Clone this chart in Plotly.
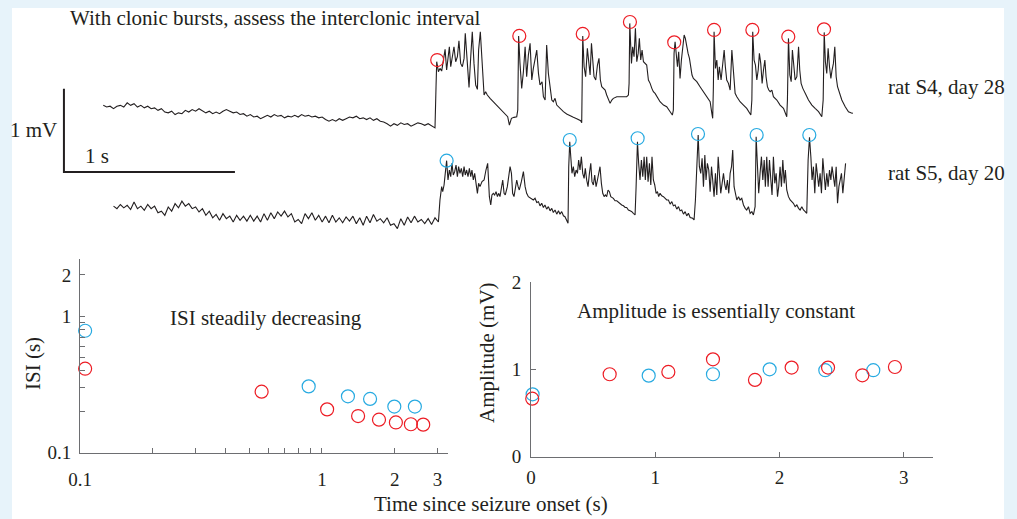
import plotly.graph_objects as go

# ------------------------------------------------------------------
# DATA
# ------------------------------------------------------------------
# Top traces: time (s, relative to seizure onset) and voltage (mV)
S4_BASE_T = [-1.94, -1.92, -1.90, -1.88, -1.86, -1.84, -1.82, -1.80, -1.78, -1.76,
             -1.74, -1.72, -1.70, -1.68, -1.66, -1.64, -1.62, -1.60, -1.58, -1.56,
             -1.54, -1.52, -1.50, -1.48, -1.46, -1.44, -1.42, -1.40, -1.38, -1.36,
             -1.34, -1.32, -1.30, -1.28, -1.26, -1.24, -1.22, -1.20, -1.18, -1.16,
             -1.14, -1.12, -1.10, -1.08, -1.06, -1.04, -1.02, -1.00, -0.98, -0.96,
             -0.94, -0.92, -0.90, -0.88, -0.86, -0.84, -0.82, -0.80, -0.78, -0.76,
             -0.74, -0.72, -0.70, -0.68, -0.66, -0.64, -0.62, -0.60, -0.58, -0.56,
             -0.54, -0.52, -0.50, -0.48, -0.46, -0.44, -0.42, -0.40, -0.38, -0.36,
             -0.34, -0.32, -0.30, -0.28, -0.26, -0.24, -0.22, -0.20, -0.18, -0.16,
             -0.14, -0.12, -0.10, -0.08, -0.06, -0.04, -0.02, 0.00]
S4_BASE_V = [0.80, 0.78, 0.79, 0.76, 0.79, 0.80, 0.78, 0.83, 0.80, 0.82,
             0.78, 0.80, 0.77, 0.79, 0.76, 0.77, 0.74, 0.76, 0.72, 0.71,
             0.73, 0.69, 0.71, 0.70, 0.74, 0.72, 0.75, 0.73, 0.76, 0.74,
             0.71, 0.73, 0.70, 0.72, 0.70, 0.73, 0.75, 0.73, 0.71, 0.72,
             0.69, 0.70, 0.67, 0.69, 0.66, 0.67, 0.64, 0.66, 0.68, 0.66,
             0.69, 0.67, 0.68, 0.65, 0.67, 0.66, 0.68, 0.66, 0.69, 0.67,
             0.68, 0.66, 0.67, 0.65, 0.66, 0.63, 0.61, 0.63, 0.61, 0.64,
             0.62, 0.64, 0.66, 0.65, 0.67, 0.64, 0.65, 0.63, 0.65, 0.62,
             0.64, 0.61, 0.60, 0.58, 0.55, 0.58, 0.56, 0.59, 0.57, 0.58,
             0.55, 0.57, 0.59, 0.58, 0.56, 0.58, 0.55, 0.53]

S4_BURST = [
    (0.006, 1.024), (0.010, 1.324), (0.020, 1.204), (0.029, 1.244), (0.039, 1.212),
    (0.049, 1.364), (0.059, 1.472), (0.068, 1.224), (0.078, 1.384), (0.084, 1.504),
    (0.092, 1.264), (0.101, 1.404), (0.111, 1.504), (0.121, 1.324), (0.131, 1.384),
    (0.140, 1.576), (0.150, 1.304), (0.160, 1.264), (0.170, 1.364), (0.177, 1.664),
    (0.189, 1.264), (0.199, 1.016), (0.209, 1.384), (0.218, 1.684), (0.228, 1.304),
    (0.238, 1.044), (0.248, 0.992), (0.255, 1.464), (0.265, 1.684), (0.275, 1.264),
    (0.287, 0.924), (0.296, 0.964), (0.306, 0.924), (0.322, 0.884), (0.341, 0.844),
    (0.361, 0.804), (0.380, 0.764), (0.400, 0.724), (0.415, 0.684), (0.425, 0.664),
    (0.435, 0.564), (0.447, 0.644), (0.462, 0.656), (0.478, 0.664), (0.484, 0.744),
    (0.489, 1.632), (0.497, 1.304), (0.507, 1.004), (0.517, 1.204), (0.527, 1.504),
    (0.536, 1.144), (0.546, 1.404), (0.556, 1.544), (0.566, 1.104), (0.575, 1.244),
    (0.585, 1.364), (0.595, 1.464), (0.605, 1.184), (0.614, 1.044), (0.626, 1.084),
    (0.634, 0.904), (0.644, 0.864), (0.653, 1.524), (0.663, 1.184), (0.673, 1.044),
    (0.683, 0.864), (0.692, 0.844), (0.702, 0.884), (0.712, 0.804), (0.731, 0.764),
    (0.751, 0.724), (0.770, 0.696), (0.790, 0.672), (0.809, 0.656), (0.829, 0.640),
    (0.852, 0.616), (0.858, 0.592), (0.860, 0.864), (0.864, 1.632), (0.872, 1.264),
    (0.881, 1.144), (0.891, 1.484), (0.899, 1.264), (0.907, 1.164), (0.915, 1.544),
    (0.922, 1.324), (0.930, 1.144), (0.940, 1.104), (0.950, 1.284), (0.959, 1.364),
    (0.967, 1.104), (0.975, 1.024), (0.985, 1.004), (0.995, 0.984), (1.004, 0.924),
    (1.014, 0.864), (1.024, 0.824), (1.034, 0.864), (1.043, 0.884), (1.063, 0.904),
    (1.082, 0.904), (1.102, 0.912), (1.121, 0.904), (1.131, 0.924), (1.135, 1.064),
    (1.139, 1.784), (1.149, 1.304), (1.156, 1.504), (1.164, 1.384), (1.172, 1.724),
    (1.180, 1.324), (1.188, 1.424), (1.195, 1.604), (1.203, 1.344), (1.211, 1.464),
    (1.219, 1.324), (1.229, 1.304), (1.238, 1.284), (1.248, 1.104), (1.258, 1.064),
    (1.268, 1.004), (1.277, 0.964), (1.287, 0.944), (1.297, 0.904), (1.307, 0.864),
    (1.316, 0.844), (1.336, 0.804), (1.355, 0.784), (1.375, 0.724), (1.388, 0.684),
    (1.394, 0.744), (1.398, 1.424), (1.404, 1.564), (1.410, 1.404), (1.418, 1.264),
    (1.425, 1.444), (1.433, 1.124), (1.441, 1.344), (1.449, 1.504), (1.457, 1.644),
    (1.464, 1.604), (1.472, 1.504), (1.480, 1.424), (1.488, 1.364), (1.496, 1.264),
    (1.503, 1.164), (1.511, 1.124), (1.531, 1.084), (1.550, 1.024), (1.570, 0.964),
    (1.589, 0.904), (1.609, 0.844), (1.619, 0.704), (1.624, 0.644), (1.628, 1.024),
    (1.632, 1.684), (1.640, 1.244), (1.648, 1.344), (1.656, 1.104), (1.663, 1.264),
    (1.673, 1.104), (1.683, 1.284), (1.691, 1.464), (1.698, 1.264), (1.706, 1.104),
    (1.716, 1.064), (1.726, 0.984), (1.736, 1.464), (1.745, 1.144), (1.755, 0.944),
    (1.765, 0.904), (1.784, 0.844), (1.804, 0.804), (1.823, 0.764), (1.847, 0.684),
    (1.853, 0.864), (1.858, 1.684), (1.866, 1.344), (1.874, 1.284), (1.882, 1.104),
    (1.890, 1.224), (1.897, 1.424), (1.905, 1.304), (1.913, 1.064), (1.921, 1.224),
    (1.929, 1.344), (1.936, 1.144), (1.944, 1.024), (1.952, 0.984), (1.960, 0.964),
    (1.970, 0.984), (1.979, 0.904), (1.999, 0.864), (2.018, 0.804), (2.038, 0.764),
    (2.057, 0.664), (2.061, 0.864), (2.067, 1.604), (2.075, 1.164), (2.083, 1.084),
    (2.090, 1.464), (2.098, 1.304), (2.106, 1.104), (2.116, 1.144), (2.126, 1.504),
    (2.133, 1.224), (2.141, 1.064), (2.151, 1.004), (2.159, 0.964), (2.170, 0.924),
    (2.184, 0.864), (2.204, 0.804), (2.223, 0.764), (2.243, 0.724), (2.262, 0.664),
    (2.270, 0.864), (2.276, 1.676), (2.283, 1.324), (2.291, 1.184), (2.299, 1.484),
    (2.307, 1.264), (2.315, 1.124), (2.322, 1.224), (2.330, 1.304), (2.338, 1.504),
    (2.346, 1.144), (2.354, 1.024), (2.365, 0.964), (2.379, 0.864), (2.399, 0.784),
    (2.418, 0.724), (2.432, 0.712), (2.443, 0.704),
]

S5_BASE_T = [-1.88, -1.86, -1.84, -1.82, -1.80, -1.78, -1.76, -1.74, -1.72, -1.70,
             -1.68, -1.66, -1.64, -1.62, -1.60, -1.58, -1.56, -1.54, -1.52, -1.50,
             -1.48, -1.46, -1.44, -1.42, -1.40, -1.38, -1.36, -1.34, -1.32, -1.30,
             -1.28, -1.26, -1.24, -1.22, -1.20, -1.18, -1.16, -1.14, -1.12, -1.10,
             -1.08, -1.06, -1.04, -1.02, -1.00, -0.98, -0.96, -0.94, -0.92, -0.90,
             -0.88, -0.86, -0.84, -0.82, -0.80, -0.78, -0.76, -0.74, -0.72, -0.70,
             -0.68, -0.66, -0.64, -0.62, -0.60, -0.58, -0.56, -0.54, -0.52, -0.50,
             -0.48, -0.46, -0.44, -0.42, -0.40, -0.38, -0.36, -0.34, -0.32, -0.30,
             -0.28, -0.26, -0.24, -0.22, -0.20, -0.18, -0.16, -0.14, -0.12, -0.10,
             -0.08, -0.06, -0.04, -0.02, 0.00, 0.02]
S5_BASE_V = [-0.41, -0.44, -0.39, -0.43, -0.40, -0.45, -0.36, -0.44, -0.41, -0.46,
             -0.39, -0.44, -0.41, -0.49, -0.47, -0.52, -0.42, -0.47, -0.38, -0.43,
             -0.35, -0.41, -0.38, -0.44, -0.42, -0.48, -0.44, -0.52, -0.47, -0.55,
             -0.51, -0.58, -0.50, -0.56, -0.53, -0.60, -0.52, -0.58, -0.53, -0.59,
             -0.52, -0.59, -0.53, -0.60, -0.50, -0.58, -0.49, -0.56, -0.48, -0.53,
             -0.47, -0.54, -0.50, -0.60, -0.57, -0.62, -0.50, -0.56, -0.49, -0.58,
             -0.52, -0.60, -0.53, -0.61, -0.52, -0.60, -0.55, -0.61, -0.54, -0.59,
             -0.53, -0.62, -0.55, -0.64, -0.53, -0.61, -0.51, -0.59, -0.56, -0.61,
             -0.55, -0.64, -0.62, -0.68, -0.56, -0.64, -0.54, -0.61, -0.53, -0.60,
             -0.57, -0.62, -0.56, -0.63, -0.55, -0.60]

S5_BURST = [
    (0.029, -0.336), (0.039, -0.176), (0.045, -0.236), (0.053, -0.156), (0.060, -0.016),
    (0.068, 0.136), (0.076, -0.096), (0.084, 0.024), (0.092, -0.056), (0.099, 0.104),
    (0.107, -0.036), (0.115, 0.004), (0.123, 0.084), (0.131, -0.056), (0.138, 0.064),
    (0.146, -0.016), (0.154, 0.044), (0.162, -0.056), (0.170, 0.064), (0.177, -0.036),
    (0.185, 0.024), (0.193, -0.056), (0.201, 0.044), (0.209, -0.056), (0.216, 0.024),
    (0.224, -0.096), (0.232, -0.016), (0.240, -0.116), (0.248, -0.256), (0.255, -0.136),
    (0.263, -0.176), (0.275, -0.116), (0.287, -0.096), (0.298, 0.024), (0.308, 0.104),
    (0.318, -0.296), (0.326, -0.396), (0.333, -0.276), (0.341, -0.256), (0.349, -0.276),
    (0.357, -0.236), (0.365, -0.296), (0.372, -0.256), (0.380, -0.296), (0.388, -0.216),
    (0.396, -0.096), (0.404, -0.256), (0.411, -0.276), (0.423, -0.176), (0.431, -0.016),
    (0.439, 0.064), (0.447, -0.016), (0.454, -0.256), (0.462, -0.296), (0.470, -0.176),
    (0.478, -0.096), (0.486, -0.176), (0.493, -0.216), (0.505, -0.116), (0.517, 0.004),
    (0.527, -0.176), (0.536, -0.256), (0.546, -0.296), (0.560, -0.316), (0.575, -0.336),
    (0.585, -0.316), (0.595, -0.366), (0.605, -0.356), (0.614, -0.406), (0.624, -0.376),
    (0.634, -0.426), (0.643, -0.396), (0.653, -0.446), (0.663, -0.416), (0.673, -0.466),
    (0.683, -0.436), (0.692, -0.486), (0.702, -0.456), (0.712, -0.506), (0.722, -0.466),
    (0.731, -0.506), (0.741, -0.476), (0.751, -0.526), (0.760, -0.536), (0.770, -0.576),
    (0.778, -0.616), (0.782, 0.064), (0.788, 0.364), (0.794, 0.184), (0.801, -0.016),
    (0.809, 0.064), (0.817, -0.056), (0.825, 0.024), (0.833, -0.016), (0.840, 0.144),
    (0.848, 0.024), (0.856, 0.184), (0.864, -0.016), (0.872, -0.076), (0.879, 0.044),
    (0.887, -0.096), (0.895, -0.176), (0.903, -0.016), (0.911, 0.104), (0.918, -0.116),
    (0.926, -0.156), (0.934, -0.036), (0.942, -0.176), (0.950, -0.096), (0.957, -0.016),
    (0.965, 0.064), (0.973, -0.136), (0.981, -0.256), (0.989, -0.296), (0.996, -0.276),
    (1.004, -0.296), (1.012, -0.216), (1.020, -0.236), (1.028, -0.296), (1.043, -0.316),
    (1.053, -0.346), (1.063, -0.346), (1.073, -0.366), (1.082, -0.386), (1.092, -0.396),
    (1.102, -0.406), (1.112, -0.426), (1.121, -0.426), (1.131, -0.456), (1.141, -0.466),
    (1.151, -0.476), (1.160, -0.496), (1.170, -0.516), (1.176, -0.176), (1.184, 0.364),
    (1.191, 0.104), (1.199, -0.096), (1.207, 0.144), (1.215, -0.056), (1.223, 0.184),
    (1.230, -0.096), (1.238, 0.184), (1.246, -0.116), (1.254, 0.104), (1.262, -0.156),
    (1.269, 0.184), (1.277, -0.096), (1.285, -0.156), (1.293, -0.256), (1.301, -0.236),
    (1.308, -0.296), (1.316, -0.256), (1.326, -0.286), (1.336, -0.296), (1.346, -0.316),
    (1.355, -0.336), (1.365, -0.336), (1.375, -0.386), (1.385, -0.356), (1.394, -0.406),
    (1.404, -0.396), (1.414, -0.446), (1.424, -0.416), (1.433, -0.466), (1.443, -0.456),
    (1.453, -0.506), (1.463, -0.476), (1.472, -0.526), (1.482, -0.496), (1.492, -0.546),
    (1.507, -0.556), (1.515, -0.576), (1.523, -0.336), (1.531, 0.184), (1.539, 0.444),
    (1.546, 0.064), (1.554, -0.016), (1.562, 0.164), (1.570, -0.176), (1.578, 0.204),
    (1.585, -0.096), (1.593, 0.104), (1.601, 0.024), (1.609, -0.236), (1.617, 0.064),
    (1.624, -0.096), (1.632, -0.296), (1.640, -0.016), (1.648, -0.276), (1.656, 0.184),
    (1.663, -0.096), (1.671, -0.256), (1.679, -0.136), (1.687, -0.016), (1.695, -0.156),
    (1.702, -0.216), (1.710, -0.096), (1.718, -0.256), (1.726, -0.016), (1.734, 0.064),
    (1.741, 0.264), (1.749, -0.176), (1.757, -0.256), (1.765, -0.336), (1.775, -0.296),
    (1.784, -0.336), (1.794, -0.316), (1.804, -0.396), (1.814, -0.436), (1.823, -0.456),
    (1.833, -0.416), (1.843, -0.496), (1.853, -0.476), (1.862, -0.516), (1.872, -0.416),
    (1.878, 0.424), (1.886, 0.064), (1.893, -0.256), (1.901, -0.016), (1.909, 0.184),
    (1.917, -0.096), (1.925, 0.144), (1.932, -0.176), (1.940, 0.184), (1.948, -0.176),
    (1.956, 0.144), (1.964, -0.096), (1.971, -0.276), (1.979, 0.184), (1.987, -0.136),
    (1.995, -0.016), (2.003, -0.296), (2.010, -0.176), (2.018, 0.064), (2.026, -0.176),
    (2.034, 0.144), (2.042, -0.136), (2.049, 0.024), (2.057, -0.216), (2.067, -0.296),
    (2.077, -0.336), (2.087, -0.356), (2.096, -0.376), (2.106, -0.416), (2.116, -0.396),
    (2.126, -0.436), (2.135, -0.456), (2.145, -0.416), (2.155, -0.456), (2.165, -0.476),
    (2.174, -0.496), (2.182, 0.144), (2.190, 0.416), (2.198, 0.184), (2.205, -0.096),
    (2.213, 0.064), (2.221, -0.256), (2.229, 0.104), (2.237, -0.056), (2.244, -0.176),
    (2.252, -0.016), (2.260, -0.256), (2.268, 0.164), (2.276, -0.096), (2.283, -0.216),
    (2.291, -0.016), (2.299, -0.176), (2.307, 0.024), (2.315, -0.096), (2.322, 0.064),
    (2.330, -0.096), (2.338, -0.176), (2.346, 0.064), (2.354, -0.376), (2.362, -0.176),
    (2.369, -0.096), (2.377, -0.016), (2.385, -0.256), (2.393, -0.056), (2.401, 0.104),
]

# Peaks marked with circles on the traces (s, mV)
S4_PEAK_T = [0.013, 0.493, 0.864, 1.140, 1.399, 1.632, 1.856, 2.066, 2.275]
S4_PEAK_V = [1.344, 1.633, 1.657, 1.801, 1.557, 1.705, 1.705, 1.624, 1.713]
S5_PEAK_T = [0.068, 0.788, 1.185, 1.538, 1.881, 2.189]
S5_PEAK_V = [0.136, 0.384, 0.405, 0.456, 0.444, 0.444]

# Scale bar (s, mV)
SCALE_T = 1.0
SCALE_V = 1.0

# Inter-spike interval panel (log-log)
S4_ISI_T = [0.105, 0.563, 1.05, 1.41, 1.72, 2.02, 2.33, 2.62]
S4_ISI = [0.411, 0.279, 0.207, 0.185, 0.174, 0.166, 0.161, 0.160]
S5_ISI_T = [0.105, 0.881, 1.28, 1.58, 1.99, 2.42]
S5_ISI = [0.780, 0.305, 0.258, 0.247, 0.217, 0.217]

# Amplitude panel
S4_AMP_T = [0.01, 0.633, 1.105, 1.464, 1.802, 2.097, 2.39, 2.666, 2.928]
S4_AMP = [0.664, 0.944, 0.970, 1.115, 0.879, 1.02, 1.02, 0.932, 1.027]
S5_AMP_T = [0.013, 0.947, 1.464, 1.92, 2.368, 2.754]
S5_AMP = [0.714, 0.928, 0.944, 1.0, 0.99, 0.99]

ISI_XTICKS = [0.1, 0.2, 0.3, 0.4, 0.5, 0.6, 0.7, 0.8, 0.9, 1, 2, 3]
ISI_XLABELS = ["0.1", "", "", "", "", "", "", "", "", "1", "2", "3"]
ISI_YTICKS = [0.1, 0.2, 0.3, 0.4, 0.5, 0.6, 0.7, 0.8, 0.9, 1, 2]
ISI_YLABELS = ["0.1", "", "", "", "", "", "", "", "", "1", "2"]
AMP_XTICKS = [0, 1, 2, 3]
AMP_YTICKS = [0, 1, 2]

# ------------------------------------------------------------------
# STYLE
# ------------------------------------------------------------------
INK = "#231f20"
RED = "#ed1c24"
BLUE = "#27aae1"
AXIS = "#6d6e71"
FONT = "Liberation Serif"
W, H = 1017, 519

fig = go.Figure()

def trace_line(t, v):
    fig.add_trace(go.Scatter(x=t, y=v, mode="lines", xaxis="x3", yaxis="y3",
                             line=dict(color=INK, width=1.1), hoverinfo="skip",
                             showlegend=False))

s4_t = S4_BASE_T + [p[0] for p in S4_BURST]
s4_v = S4_BASE_V + [p[1] for p in S4_BURST]
s5_t = S5_BASE_T + [p[0] for p in S5_BURST]
s5_v = S5_BASE_V + [p[1] for p in S5_BURST]
trace_line(s4_t, s4_v)
trace_line(s5_t, s5_v)

circ = dict(symbol="circle-open", size=13, line=dict(width=1.2))
fig.add_trace(go.Scatter(x=S4_PEAK_T, y=S4_PEAK_V, mode="markers", xaxis="x3", yaxis="y3",
                         marker=dict(color=RED, **circ), cliponaxis=False, showlegend=False))
fig.add_trace(go.Scatter(x=S5_PEAK_T, y=S5_PEAK_V, mode="markers", xaxis="x3", yaxis="y3",
                         marker=dict(color=BLUE, **circ), cliponaxis=False, showlegend=False))

# scale bar
sb_t0 = -2.17
fig.add_trace(go.Scatter(x=[sb_t0, sb_t0, sb_t0 + SCALE_T], y=[SCALE_V, 0, 0],
                         mode="lines", xaxis="x3", yaxis="y3",
                         line=dict(color=INK, width=2), showlegend=False))

# ISI panel
fig.add_trace(go.Scatter(x=S5_ISI_T, y=S5_ISI, mode="markers", xaxis="x", yaxis="y",
                         marker=dict(color=BLUE, **circ), cliponaxis=False, showlegend=False))
fig.add_trace(go.Scatter(x=S4_ISI_T, y=S4_ISI, mode="markers", xaxis="x", yaxis="y",
                         marker=dict(color=RED, **circ), cliponaxis=False, showlegend=False))

# Amplitude panel
fig.add_trace(go.Scatter(x=S5_AMP_T, y=S5_AMP, mode="markers", xaxis="x2", yaxis="y2",
                         marker=dict(color=BLUE, **circ), cliponaxis=False, showlegend=False))
fig.add_trace(go.Scatter(x=S4_AMP_T, y=S4_AMP, mode="markers", xaxis="x2", yaxis="y2",
                         marker=dict(color=RED, **circ), cliponaxis=False, showlegend=False))

tickfont = dict(family=FONT, size=19, color=INK)
common = dict(showgrid=False, zeroline=False, showline=True, linecolor=AXIS, linewidth=1,
              ticks="inside", ticklen=5, tickcolor=AXIS, tickwidth=1, tickfont=tickfont,
              tickmode="array", automargin=False)

def px_x(p):
    return p / W

def px_y(p):
    return 1 - p / H

fig.update_layout(
    width=W, height=H,
    margin=dict(l=0, r=0, t=0, b=0, pad=0, autoexpand=False),
    paper_bgcolor="#e7f3fa",
    plot_bgcolor="rgba(0,0,0,0)",
    showlegend=False,
    xaxis=dict(type="log", domain=[px_x(80), px_x(448)], range=[-1, 0.5207], anchor="y",
               tickvals=ISI_XTICKS, ticktext=ISI_XLABELS, ticklabelstandoff=10, **common),
    yaxis=dict(type="log", domain=[px_y(452.5), px_y(259)], range=[-1, 0.4176], anchor="x",
               tickvals=ISI_YTICKS, ticktext=ISI_YLABELS, ticklabelstandoff=4, **common),
    xaxis2=dict(domain=[px_x(531), px_x(932.7)], range=[0, 3.232], anchor="y2",
                tickvals=AMP_XTICKS, ticktext=[str(v) for v in AMP_XTICKS],
                ticklabelstandoff=3, **common),
    yaxis2=dict(domain=[px_y(456.7), px_y(282)], range=[0, 2], anchor="x2",
                tickvals=AMP_YTICKS, ticktext=[str(v) for v in AMP_YTICKS],
                ticklabelstandoff=5, **common),
    xaxis3=dict(domain=[0, 1], range=[-435 / 171, (W - 435) / 171], visible=False,
                anchor="y3", automargin=False),
    yaxis3=dict(domain=[px_y(250), 1], range=[-78 / 83.3, 172 / 83.3], visible=False,
                anchor="x3", automargin=False),
    shapes=[dict(type="rect", xref="paper", yref="paper", x0=px_x(12), x1=px_x(1004),
                 y0=0, y1=px_y(8), fillcolor="white", line=dict(width=0), layer="below")],
)

txt = dict(family=FONT, size=21, color=INK)

def note(text, x, y, xanchor="center", angle=0):
    fig.add_annotation(text=text, x=px_x(x), y=px_y(y), xref="paper", yref="paper",
                       showarrow=False, xanchor=xanchor, yanchor="middle",
                       textangle=angle, font=txt)

note("With clonic bursts, assess the interclonic interval", 275, 18)
note("1 mV", 59, 130, xanchor="right")
note("1 s", 97, 156)
note("rat S4, day 28", 886, 87, xanchor="left")
note("rat S5, day 20", 886, 173, xanchor="left")
note("ISI steadily decreasing", 266, 318)
note("ISI (s)", 33, 364, angle=-90)
note("Amplitude is essentially constant", 716, 311)
note("Amplitude (mV)", 487, 353, angle=-90)
note("Time since seizure onset (s)", 491, 504)

fig.write_html("out.html",
               config={"displayModeBar": False},
               post_script="document.body.style.margin='0px';"
                           "document.body.style.background='#e7f3fa';")
